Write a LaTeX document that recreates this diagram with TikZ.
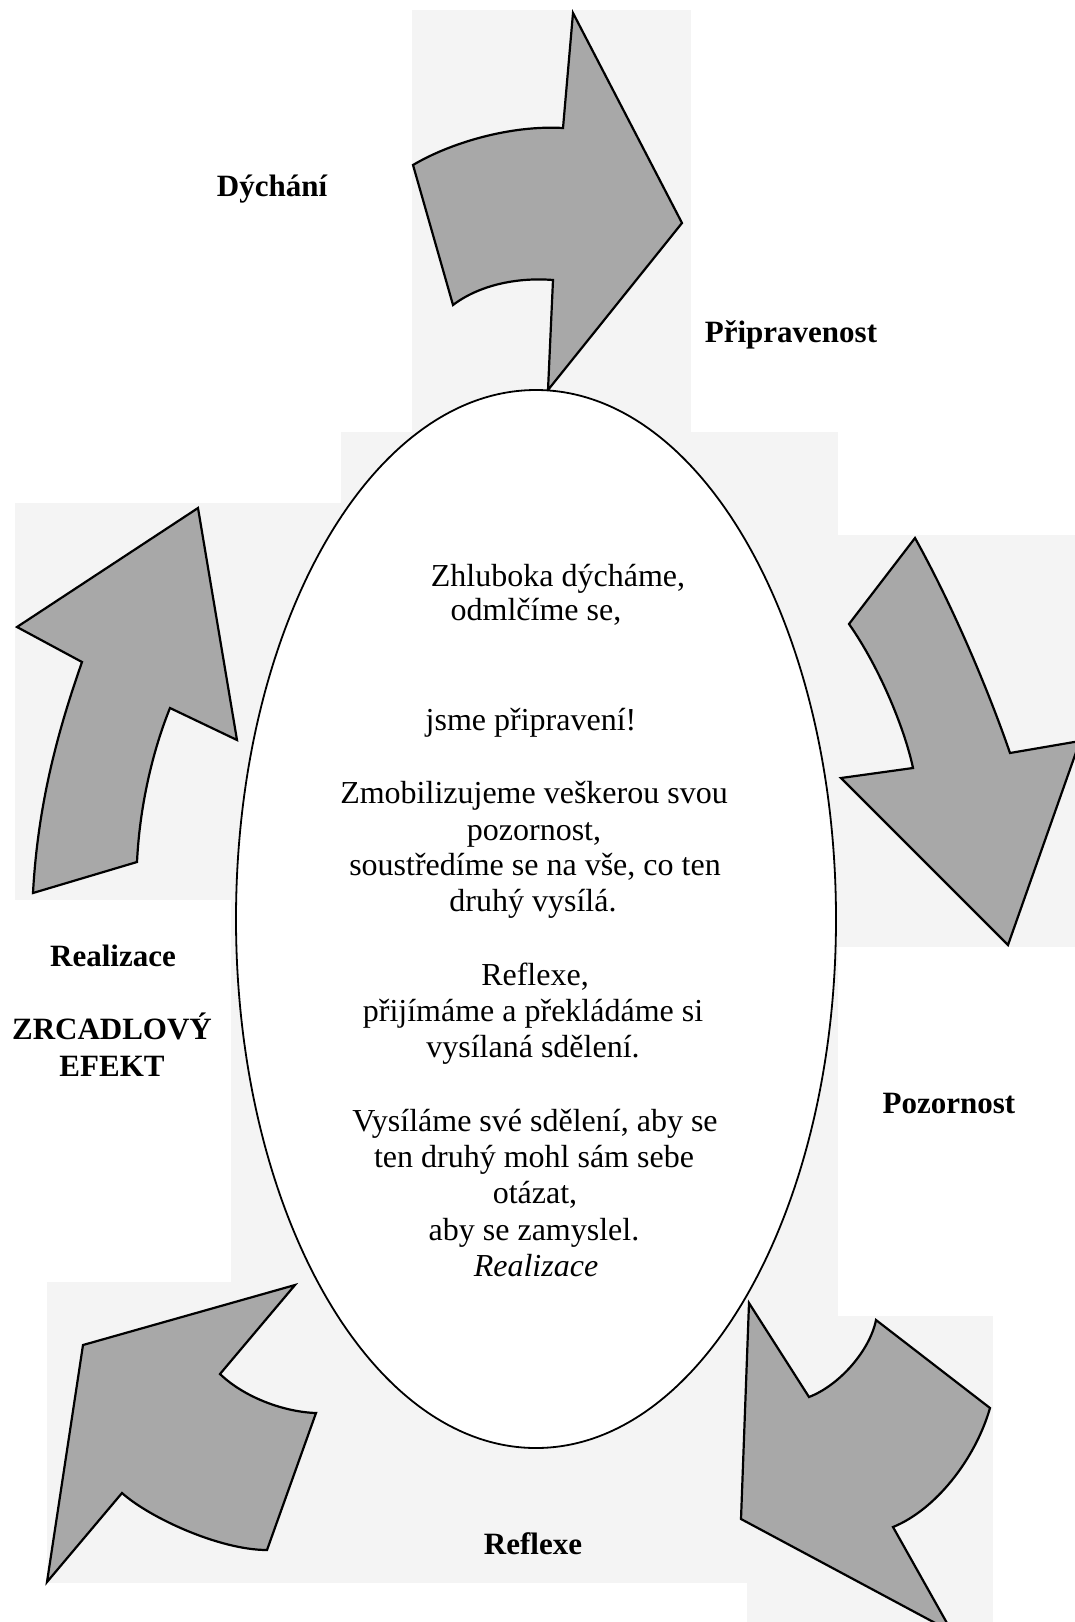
\documentclass[tikz,border=0pt]{standalone}
\usepackage{fontspec}
\setmainfont{Liberation Serif}
\usetikzlibrary{shapes.geometric}
\definecolor{arrowgray}{RGB}{168,168,168}
\definecolor{scangray}{RGB}{244,244,244}
\tikzset{
  arrowshape/.style={fill=arrowgray, draw=black, line width=2.2pt, line join=miter},
  patch/.style={fill=scangray, draw=none},
  lbl/.style={font=\fontsize{31}{36}\selectfont\bfseries, anchor=base, inner sep=0pt},
  body/.style={font=\fontsize{32}{36}\selectfont, anchor=base, inner sep=0pt},
}
\begin{document}
\begin{tikzpicture}[x=1pt,y=-1pt]
\useasboundingbox (0,0) rectangle (1075,1622);
\clip (0,0) rectangle (1075,1622);
\fill[white] (0,0) rectangle (1075,1622);
% faint scanned patches
\fill[patch] (412,10) rectangle (691,432);
\fill[patch] (341,432) rectangle (838,1583);
\fill[patch] (15,503) rectangle (341,900);
\fill[patch] (231,900) rectangle (341,1282);
\fill[patch] (47,1282) rectangle (747,1583);
\fill[patch] (838,535) rectangle (1075,947);
\fill[patch] (747,1316) rectangle (993,1622);
% top arrow
\draw[arrowshape] (573,13) -- (682,223) -- (548,390) -- (553,280)
  .. controls (515,277) and (478,286) .. (453,305) -- (413,165)
  .. controls (450,143) and (510,125) .. (563,128) -- cycle;
% left arrow
\draw[arrowshape] (198,508) -- (17,627) -- (82,662)
  .. controls (60,725) and (38,800) .. (33,893) -- (137,862)
  .. controls (140,800) and (155,745) .. (170,708) -- (237,740) -- cycle;
% right arrow
\draw[arrowshape] (915,538) -- (849,624)
  .. controls (880,668) and (905,730) .. (913,768) -- (841,778) -- (1008,945)
  -- (1080,741) -- (1010,753)
  .. controls (990,695) and (955,610) .. cycle;
% bottom-left arrow
\draw[arrowshape] (47,1582) -- (83,1345) -- (295,1285) -- (220,1374)
  .. controls (245,1398) and (285,1412) .. (316,1413) -- (267,1550)
  .. controls (220,1550) and (150,1518) .. (122,1493) -- cycle;
% bottom-right arrow
\draw[arrowshape] (749,1303) -- (809,1397)
  .. controls (840,1385) and (870,1350) .. (876,1320) -- (990,1408)
  .. controls (975,1460) and (935,1510) .. (893,1527) -- (952,1632)
  -- (741,1519) -- cycle;
% central oval
\node (oval) [ellipse, draw, fill=white, line width=1.8pt, inner sep=0pt,
  minimum width=600pt, minimum height=1058pt] at (536,919) {};
% labels
\node[lbl] (dychani) at (272,196) {Dýchání};
\node[lbl] (pripravenost) at (791,342) {Připravenost};
\node[lbl] (realizace) at (113,966) {Realizace};
\node[lbl] (zrcadlovy) at (112,1039) {ZRCADLOVÝ};
\node[lbl] (efekt) at (112,1076) {EFEKT};
\node[lbl] (pozornost) at (949,1113) {Pozornost};
\node[lbl] (reflexe) at (533,1554) {Reflexe};
% body text
\node[body] (t1) at (558,586) {Zhluboka dýcháme,};
\node[body] (t2) at (536,620) {odmlčíme se,};
\node[body] (t3) at (531,730) {jsme připravení!};
\node[body] (t4) at (534,803) {Zmobilizujeme veškerou svou};
\node[body] (t5) at (534,840) {pozornost,};
\node[body] (t6) at (535,875) {soustředíme se na vše, co ten};
\node[body] (t7) at (533,911) {druhý vysílá.};
\node[body] (t8) at (535,985) {Reflexe,};
\node[body] (t9) at (533,1021) {přijímáme a překládáme si};
\node[body] (t10) at (533,1057) {vysílaná sdělení.};
\node[body] (t11) at (535,1131) {Vysíláme své sdělení, aby se};
\node[body] (t12) at (534,1167) {ten druhý mohl sám sebe};
\node[body] (t13) at (535,1203) {otázat,};
\node[body] (t14) at (534,1240) {aby se zamyslel.};
\node[body,font=\fontsize{32}{36}\selectfont\itshape] (t15) at (536,1276) {Realizace};
\end{tikzpicture}
\end{document}
